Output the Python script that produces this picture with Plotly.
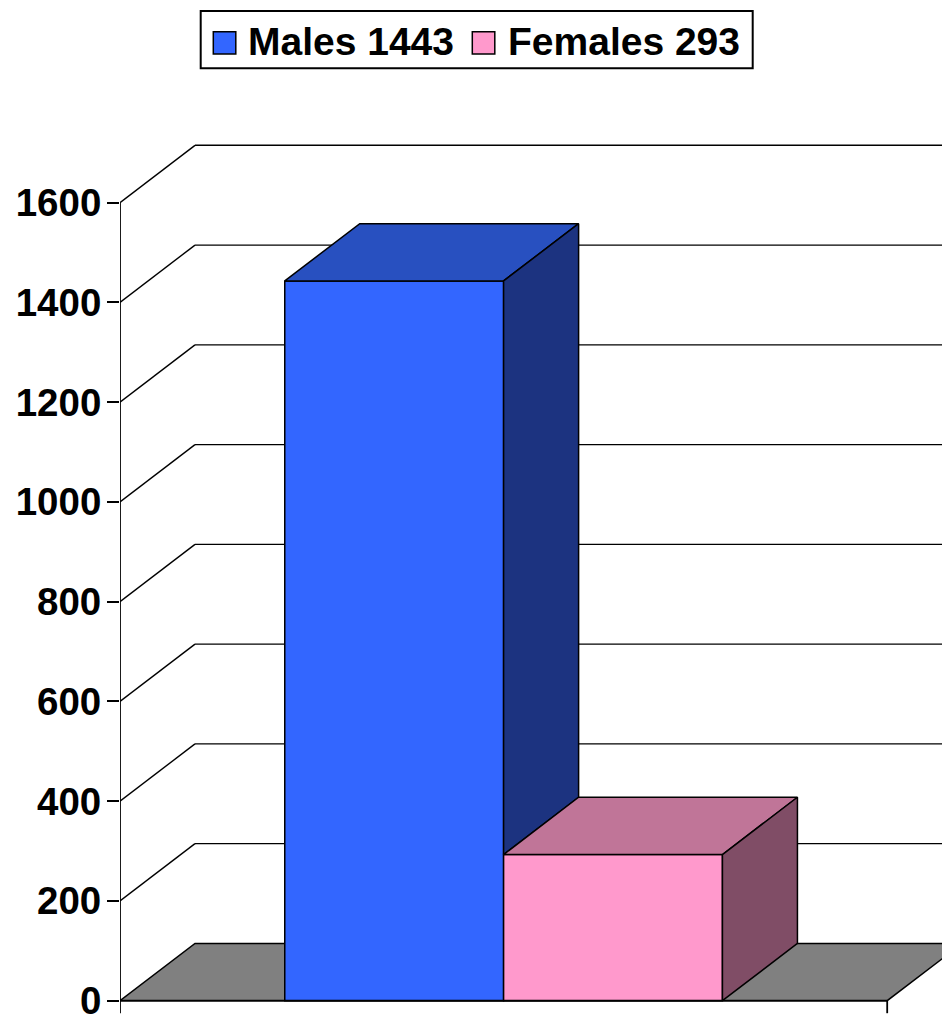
import plotly.graph_objects as go

# ---------------- data ----------------
series_names = ["Males", "Females"]
series_values = [1443, 293]
y_tick_values = [0, 200, 400, 600, 800, 1000, 1200, 1400, 1600]

# ---------------- style ----------------
front_colors = ["#3366FF", "#FF99CC"]
top_colors = ["#2850C0", "#C07598"]
side_colors = ["#1C3380", "#804D66"]
floor_color = "#808080"
FONT = "Liberation Sans, Arial, sans-serif"

OFF = 8                      # page body margin of the html page
W, H = 950 - OFF, 1015 - OFF
ML, MR, MT, MB = 120 - OFF, 0, 130 - OFF, 0
X_PX = 767.2                 # pixels per x unit (front plane width)
Y_PX = 0.4988                # pixels per y unit
Y0_PX = 1000.7 - OFF         # figure pixel row of y = 0
DX = 75 / X_PX               # 3-D depth offset, x units
DY = 57.3 / Y_PX             # 3-D depth offset, y units
BARGAP = 0.4295
TICK_DOWN = 12.5 / Y_PX

x_range = [-0.5, -0.5 + (W - ML - MR) / X_PX]
y_range = [-(H - MB - Y0_PX) / Y_PX, (Y0_PX - MT) / Y_PX]

n = len(series_values)
bar_w = (1 - BARGAP) / n
bar_left = [-(1 - BARGAP) / 2 + i * bar_w for i in range(n)]

fig = go.Figure()

# front faces (real bars)
for i, (name, v) in enumerate(zip(series_names, series_values)):
    fig.add_trace(go.Bar(
        x=[0], y=[v], width=bar_w, offset=bar_left[i],
        name=f"{name} {v}",
        marker=dict(color=front_colors[i], line=dict(color="black", width=1.5)),
        showlegend=False, hoverinfo="skip",
    ))

# top and side faces
for i, v in enumerate(series_values):
    xl = bar_left[i]
    xr = xl + bar_w
    fig.add_trace(go.Scatter(
        x=[xl, xl + DX, xr + DX, xr, xl],
        y=[v, v + DY, v + DY, v, v],
        mode="lines", fill="toself", fillcolor=top_colors[i],
        line=dict(color="black", width=1.5),
        showlegend=False, hoverinfo="skip",
    ))
    lower = series_values[i + 1] if i + 1 < n else 0
    if lower < v:
        fig.add_trace(go.Scatter(
            x=[xr, xr + DX, xr + DX, xr, xr],
            y=[lower, lower + DY, v + DY, v, lower],
            mode="lines", fill="toself", fillcolor=side_colors[i],
            line=dict(color="black", width=1.5),
            showlegend=False, hoverinfo="skip",
        ))

# left wall diagonals
dx_, dy_ = [], []
for t in y_tick_values[1:]:
    dx_ += [-0.5, -0.5 + DX, None]
    dy_ += [t, t + DY, None]
fig.add_trace(go.Scatter(x=dx_, y=dy_, mode="lines",
                         line=dict(color="black", width=1.4),
                         showlegend=False, hoverinfo="skip"))

# axes lines (value axis + category axis with end ticks)
fig.add_trace(go.Scatter(
    x=[-0.5, -0.5, None, -0.5, 0.5, None, 0.5, 0.5],
    y=[-TICK_DOWN, y_tick_values[-1], None, 0, 0, None, 0, -TICK_DOWN],
    mode="lines", line=dict(color="black", width=1.8),
    showlegend=False, hoverinfo="skip"))

shapes = []
# back wall gridlines
for t in y_tick_values[1:]:
    shapes.append(dict(type="line", xref="x", yref="y", layer="below",
                       x0=-0.5 + DX, x1=0.5 + DX, y0=t + DY, y1=t + DY,
                       line=dict(color="black", width=1.4)))
# floor
shapes.append(dict(type="path", xref="x", yref="y", layer="below",
                   path=f"M {-0.5},0 L {-0.5 + DX},{DY} L {0.5 + DX},{DY} L 0.5,0 Z",
                   fillcolor=floor_color, line=dict(color="black", width=1.5)))

# manual legend (screen pixel -> paper conversion)
PW, PH = W - ML - MR, H - MT - MB
def px(xs):
    return (xs - OFF - ML) / PW
def py(ys):
    return (H - MB - (ys - OFF)) / PH

shapes.append(dict(type="rect", xref="paper", yref="paper",
                   x0=px(200.7), x1=px(752.7), y0=py(11), y1=py(68.3),
                   line=dict(color="black", width=2), fillcolor="white", layer="above"))
annotations = []
legend_sq_x = [213.3, 472.3]
legend_txt_x = [245.5, 506.3]
for i, (name, v) in enumerate(zip(series_names, series_values)):
    shapes.append(dict(type="rect", xref="paper", yref="paper",
                       x0=px(legend_sq_x[i]), x1=px(legend_sq_x[i] + 22.5),
                       y0=py(31.7), y1=py(54),
                       line=dict(color="black", width=1.5), fillcolor=front_colors[i],
                       layer="above"))
    annotations.append(dict(xref="paper", yref="paper", x=px(legend_txt_x[i]), y=py(41.5),
                            xanchor="left", yanchor="middle", showarrow=False,
                            text=f"{name} {v}",
                            font=dict(family=FONT, size=39, color="black", weight="bold")))

fig.update_layout(
    width=W, height=H,
    margin=dict(l=ML, r=MR, t=MT, b=MB, pad=0),
    paper_bgcolor="white", plot_bgcolor="white",
    barmode="overlay",
    showlegend=False,
    shapes=shapes, annotations=annotations,
    xaxis=dict(range=x_range, showgrid=False, zeroline=False, showline=False,
               showticklabels=False, ticks="", fixedrange=True, automargin=False),
    yaxis=dict(range=y_range, tickvals=y_tick_values,
               ticktext=[str(t) for t in y_tick_values],
               showgrid=False, zeroline=False, showline=False,
               ticks="outside", ticklen=12, tickwidth=1.6, tickcolor="black",
               ticklabelstandoff=-2, ticklabeloverflow="allow",
               tickfont=dict(family=FONT, size=38.5, color="black", weight="bold"),
               fixedrange=True, automargin=False),
)

fig.write_html("out.html")
